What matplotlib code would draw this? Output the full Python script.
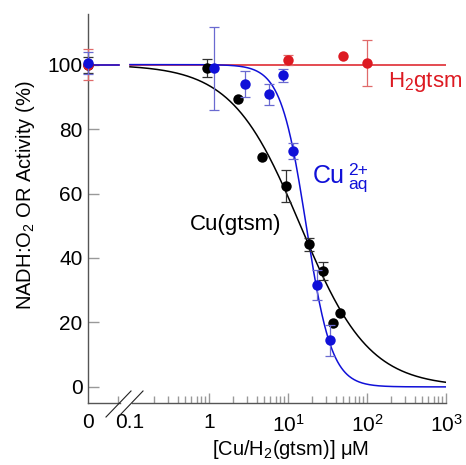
import numpy as np
import matplotlib
matplotlib.use("Agg")
import matplotlib.pyplot as plt

plt.rcParams['font.family'] = ['Liberation Sans', 'DejaVu Sans']
plt.rcParams['mathtext.fontset'] = 'custom'
plt.rcParams['mathtext.rm'] = 'Liberation Sans'
plt.rcParams['mathtext.it'] = 'Liberation Sans:italic'
plt.rcParams['mathtext.default'] = 'regular'

# ---------------- data (concentration in uM; 0 = no addition) ----------------
cugtsm_conc = [0, 0.93, 2.33, 4.64, 9.4, 18.6, 27.5, 36.8, 45.5]
cugtsm_act = [100, 98.8, 89.3, 71.4, 62.3, 44.3, 36.0, 19.9, 23.0]
cugtsm_err = [2.5, 2.8, 0, 0, 5.0, 2.0, 2.8, 0, 0]

cuaq_conc = [0, 1.16, 2.86, 5.8, 8.57, 11.5, 23.1, 34.0]
cuaq_act = [100.5, 98.8, 93.9, 90.8, 96.7, 73.2, 31.6, 14.4]
cuaq_err = [3.4, 13.0, 4.0, 3.3, 2.0, 2.6, 4.6, 4.7]

h2gtsm_conc = [0, 10, 49.6, 100]
h2gtsm_act = [100, 101.4, 102.7, 100.5]
h2gtsm_err = [4.7, 1.5, 0, 7.0]

# Hill-fit parameters
cugtsm_ic50, cugtsm_n = 14.4, 1.0
cuaq_ic50, cuaq_n = 17.0, 2.7
fit_top = 100.0

x_tick_labels = ['0', '0.1', '1', '10$^1$', '10$^2$', '10$^3$']
y_ticks = [0, 20, 40, 60, 80, 100]

# ---------------- layout ----------------
X_ZERO = 0.0294      # position on the log axis that stands for "0"
X_BREAK = 0.073      # end of the "0" segment
BLUE = '#1010d8'
RED = '#dd1a22'
BLACK = '#000000'

fig = plt.figure(figsize=(4.66, 4.65), dpi=100)
ax = fig.add_axes([88/466, 62/465, 358/466, 389/465])
ax.set_xscale('log')
ax.set_xlim(X_ZERO, 1000)
ax.set_ylim(-5, 115.7)


def pos(c):
    return [X_ZERO if v == 0 else v for v in c]


def hill(x, ic50, n):
    return fit_top / (1 + (x / ic50) ** n)


xc = np.logspace(-1, 3, 500)
# baseline segments in the "0" region and fitted curves
ax.plot([X_ZERO, X_BREAK], [fit_top, fit_top], color=RED, lw=1.1, zorder=2, clip_on=False)
ax.plot([0.1, 1000], [fit_top, fit_top], color=RED, lw=1.1, zorder=2)
ax.plot(xc, hill(xc, cugtsm_ic50, cugtsm_n), color=BLACK, lw=1.1, zorder=2)
ax.plot([X_ZERO, X_BREAK], [fit_top, fit_top], color=BLUE, lw=1.1, zorder=3, clip_on=False)
ax.plot(xc, hill(xc, cuaq_ic50, cuaq_n), color=BLUE, lw=1.1, zorder=3)


def errs(c, a, e, col, ecol, z):
    cc = [p for p, v in zip(pos(c), e) if v > 0]
    aa = [p for p, v in zip(a, e) if v > 0]
    ee = [v for v in e if v > 0]
    cont = ax.errorbar(cc, aa, yerr=ee, fmt='none', ecolor=ecol, elinewidth=0.9,
                       capsize=3.5, capthick=0.9, zorder=z)
    for ch in cont.get_children():
        ch.set_clip_on(False)
    ax.plot(pos(c), a, 'o', color=col, ms=7.5, mec='none', zorder=z + 0.5, clip_on=False)


errs(cugtsm_conc, cugtsm_act, cugtsm_err, BLACK, '#333333', 4)
errs(h2gtsm_conc, h2gtsm_act, h2gtsm_err, RED, '#e06a6a', 5)
errs(cuaq_conc, cuaq_act, cuaq_err, BLUE, '#6a6ad0', 6)

# ---------------- axes styling ----------------
for s in ['top', 'right', 'bottom']:
    ax.spines[s].set_visible(False)
ax.spines['left'].set_color('#555555')
ax.spines['left'].set_linewidth(1.0)

# bottom spine with a break
g1 = (119.5 - 88) / 358
g2 = (131.5 - 88) / 358
ax.plot([0, g1], [0, 0], color='#555555', lw=1.0, transform=ax.transAxes, clip_on=False)
ax.plot([g2, 1], [0, 0], color='#555555', lw=1.0, transform=ax.transAxes, clip_on=False)
ax.plot([(106 - 88) / 358, (131 - 88) / 358], [(403 - 417) / 389, (403 - 391) / 389],
        color='#222222', lw=0.8, transform=ax.transAxes, clip_on=False)
ax.plot([(121 - 88) / 358, (143 - 88) / 358], [(403 - 414) / 389, (403 - 391) / 389],
        color='#222222', lw=0.8, transform=ax.transAxes, clip_on=False)

ax.set_xticks([X_ZERO, 0.1, 1, 10, 100, 1000])
ax.set_xticklabels(x_tick_labels)
minor = [0.07] + [k * 10.0 ** e for e in range(-1, 3) for k in range(2, 10)]
ax.set_xticks(minor, minor=True)
ax.xaxis.set_minor_formatter(matplotlib.ticker.NullFormatter())
ax.set_yticks(y_ticks)
ax.tick_params(axis='both', which='both', direction='in', color='#999999',
               width=1.0, labelsize=15, labelcolor='black')
ax.tick_params(axis='x', which='major', length=7, pad=7.5)
ax.tick_params(axis='x', which='minor', length=5)
ax.tick_params(axis='y', which='major', length=8, pad=4)
ax.tick_params(axis='x', which='both', top=False)
ax.tick_params(axis='y', which='both', right=False)
xt = ax.xaxis.get_major_ticks()
xt[0].tick1line.set_visible(False)
xt[1].tick1line.set_visible(False)

ax.text((26 - 88) / 358, (403 - 195) / 389, 'NADH:O$_2$ OR Activity (%)', rotation=90,
        ha='center', va='center', fontsize=14.5, transform=ax.transAxes)
ax.text((290 - 88) / 358, (403 - 449) / 389, '[Cu/H$_2$(gtsm)] μM',
        ha='center', va='center', fontsize=14.5, transform=ax.transAxes)

ax.text(0.575, 48.7, 'Cu(gtsm)', color=BLACK, fontsize=16, ha='left', va='baseline')
ax.text(20.7, 63.3, 'Cu', color=BLUE, fontsize=18, ha='left', va='baseline')
ax.text(57.5, 69.6, '2+\naq', color=BLUE, fontsize=12.5, ha='left', va='top',
        linespacing=0.95)
ax.text(184.5, 93.0, 'H$_2$gtsm', color=RED, fontsize=16, ha='left', va='baseline')

fig.savefig('out.png', dpi=100)
